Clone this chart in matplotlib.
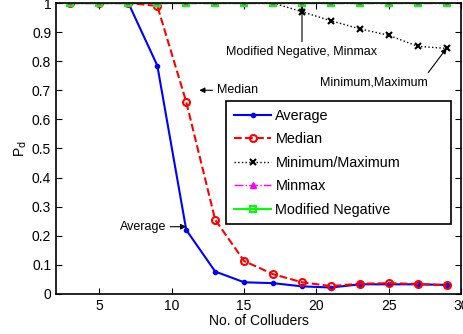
import matplotlib
matplotlib.use('Agg')
from matplotlib import pyplot as plt
import numpy as np

plt.rcParams['font.family'] = ['Liberation Sans', 'DejaVu Sans']

colluders = [3, 5, 7, 9, 11, 13, 15, 17, 19, 21, 23, 25, 27, 29]
average = [1, 1, 1, 0.785, 0.22, 0.077, 0.04, 0.037, 0.026, 0.022, 0.033, 0.033, 0.033, 0.031]
median = [1, 1, 1, 0.99, 0.66, 0.255, 0.113, 0.068, 0.04, 0.027, 0.035, 0.037, 0.034, 0.030]
minmaxim = [1, 1, 1, 1, 1, 1, 1, 1, 0.97, 0.939, 0.911, 0.889, 0.851, 0.844]
minmax = [1] * 14
mod_neg = [1] * 14

fig = plt.figure(figsize=(4.63, 3.34), dpi=100)
ax = fig.add_axes([0.121, 0.12, 0.875, 0.871])

ax.plot(colluders, average, 'b.-', lw=1.5, ms=6, label='Average')
ax.plot(colluders, median, 'r--', lw=1.5, marker='o', ms=5, mfc='none', mew=1.5, label='Median')
ax.plot(colluders, minmaxim, 'k:', lw=1, marker='x', ms=4, mew=1.5, label='Minimum/Maximum')
ax.plot(colluders, minmax, color='#ff00ff', ls='-.', lw=1, marker='^', ms=5, label='Minmax')
ax.plot(colluders, mod_neg, color='#00ff00', ls='-', lw=1.5, marker='s', ms=5, mfc='none',
        mew=1.5, label='Modified Negative')

arrow = dict(arrowstyle='-|>', color='k', lw=0.8, mutation_scale=8, shrinkA=1, shrinkB=0)
ax.annotate('Median', xy=(11.9, 0.70), xytext=(13.1, 0.70), fontsize=9,
            va='center', ha='left', arrowprops=arrow)
ax.annotate('Average', xy=(11.0, 0.231), xytext=(9.6, 0.231), fontsize=9,
            va='center', ha='right', arrowprops=arrow)
ax.annotate('Modified Negative, Minmax', xy=(19, 0.99), xytext=(19, 0.832), fontsize=9,
            va='center', ha='center', arrowprops=arrow)
arrow2 = dict(arrow, relpos=(0.98, 1.0))
ax.annotate('Minimum,Maximum', xy=(29, 0.845), xytext=(23.95, 0.727), fontsize=9,
            va='center', ha='center', arrowprops=arrow2)

ax.set_xlim(2, 30)
ax.set_ylim(0, 1)
ax.set_xticks([5, 10, 15, 20, 25, 30])
ax.set_yticks(np.arange(0, 1.01, 0.1))
ax.set_yticklabels(['0', '0.1', '0.2', '0.3', '0.4', '0.5', '0.6', '0.7', '0.8', '0.9', '1'])
ax.tick_params(direction='in', top=True, right=True, labelsize=10, length=4)
for s in ax.spines.values():
    s.set_linewidth(1.2)
ax.set_xlabel('No. of Colluders', fontsize=10, labelpad=1)
ax.set_ylabel('P$_{\\rm d}$', fontsize=10, labelpad=2)

leg = ax.legend(loc='upper left', bbox_to_anchor=(0.420, 0.0, 0.555, 0.663), mode='expand',
                fontsize=10.4, fancybox=False, edgecolor='k', framealpha=1,
                handlelength=2.6, handletextpad=0.28, borderpad=0.53, labelspacing=0.66,
                borderaxespad=0)
leg.get_frame().set_linewidth(1.2)

plt.savefig('out.png', dpi=100)
